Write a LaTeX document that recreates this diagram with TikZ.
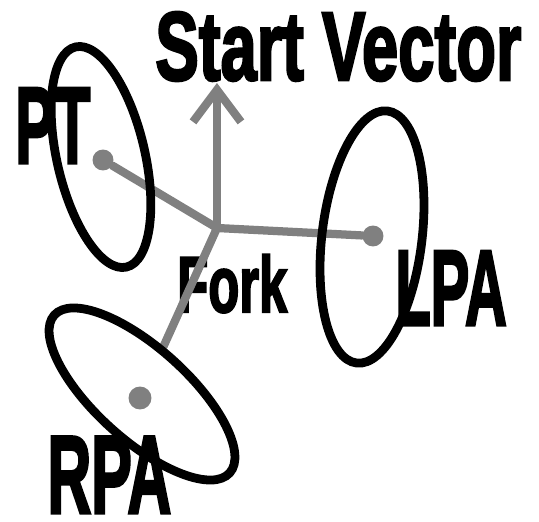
\documentclass[tikz,border=0pt]{standalone}
\usepackage{graphicx}
\usepackage{fontspec}
\newfontfamily\heavyfont[FakeBold=3]{Liberation Sans Bold}
\usetikzlibrary{arrows.meta,shapes.geometric,backgrounds}
\definecolor{stickgray}{gray}{0.5}

\begin{document}
\begin{tikzpicture}[x=0.02cm, y=0.02cm,
    stick/.style={line width=4.7pt, draw=stickgray, line cap=round},
    ring/.style={draw, ellipse, line width=5pt, inner sep=0pt},
    blob/.style={circle, fill=stickgray, inner sep=0pt, minimum size=0.42cm},
    lbl/.style={anchor=base west, inner sep=0pt}]
    \useasboundingbox (0,0) rectangle (539,522);

    % rings round the three ends
    \node[ring, minimum width=1.76cm, minimum height=4.52cm, rotate=13]  (ptring)  at (101,365) {};
    \node[ring, minimum width=2.0cm,  minimum height=5.08cm, rotate=-7]  (lparing) at (372,285) {};
    \node[ring, minimum width=4.72cm, minimum height=1.84cm, rotate=-42] (rparing) at (142,128) {};

    \coordinate (fork) at (217,294);
    \coordinate (tip)  at (217,439);
    \node[blob] (ptdot)  at (103,362) {};
    \node[blob] (lpadot) at (373,286) {};
    \node[blob, minimum size=0.46cm] (rpadot) at (140,124) {};

    \begin{pgfonlayer}{background}
    \node[lbl, font=\heavyfont\fontsize{55.4}{60}\selectfont] (svtext)   at (155,442) {\scalebox{0.67}[1]{Start Vector}};
    \node[lbl, font=\heavyfont\fontsize{61.8}{66}\selectfont] (pttext)   at (15,359)  {\scalebox{0.54}[1]{PT}};
    \node[lbl, font=\heavyfont\fontsize{45.1}{50}\selectfont] (forktext) at (177,210) {\scalebox{0.64}[1]{Fork}};
    \node[lbl, font=\heavyfont\fontsize{61}{66}\selectfont]   (lpatext)  at (395,197) {\scalebox{0.54}[1]{LPA}};
    \node[lbl, font=\heavyfont\fontsize{63}{68}\selectfont]   (rpatext)  at (47,9)    {\scalebox{0.55}[1]{RPA}};

    \draw[stick] (fork) -- (ptdot);
    \draw[stick] (fork) -- (lpadot);
    \draw[stick] (fork) -- (rparing);
    \draw[stick, -{Straight Barb[length=0.64cm, width=0.96cm]}] (fork) -- (tip);
    \end{pgfonlayer}
\end{tikzpicture}
\end{document}
